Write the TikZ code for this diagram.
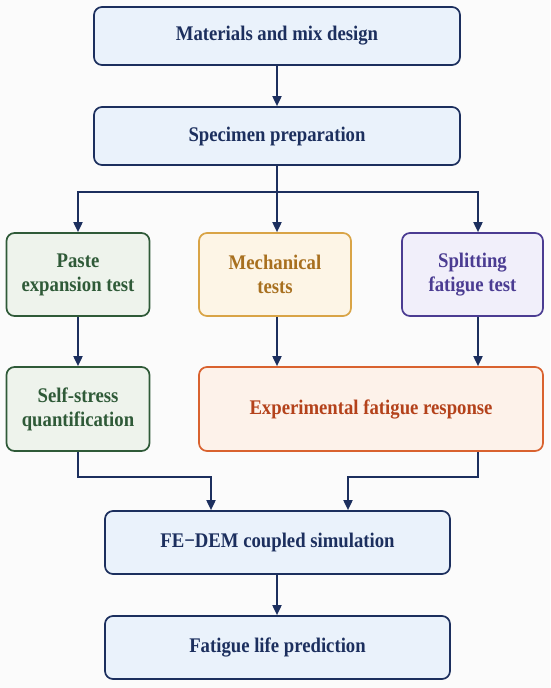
\documentclass[tikz,border=0pt]{standalone}
\usepackage{fontspec}
\setmainfont[FakeStretch=0.9]{Liberation Serif}
\usetikzlibrary{arrows.meta}

\definecolor{navy}{HTML}{1C2F5E}
\definecolor{blaufill}{HTML}{EAF2FB}
\definecolor{gruenrand}{HTML}{2F5A38}
\definecolor{gruenfill}{HTML}{EEF3EC}
\definecolor{orangerand}{HTML}{D9A446}
\definecolor{orangefill}{HTML}{FDF5E6}
\definecolor{orangetext}{HTML}{A8701F}
\definecolor{lilarand}{HTML}{4B3C92}
\definecolor{lilafill}{HTML}{F1EFFA}
\definecolor{rotrand}{HTML}{D9622F}
\definecolor{rotfill}{HTML}{FDF2EA}
\definecolor{rottext}{HTML}{B4421B}

\tikzset{
  kasten/.style={rectangle,rounded corners=8pt,line width=1.7pt,align=center,
    font=\fontsize{20.8}{24}\selectfont\bfseries,inner sep=0pt},
  blau/.style={kasten,draw=navy,fill=blaufill,text=navy},
  gruen/.style={kasten,draw=gruenrand,fill=gruenfill,text=gruenrand},
  orange/.style={kasten,draw=orangerand,fill=orangefill,text=orangetext},
  lila/.style={kasten,draw=lilarand,fill=lilafill,text=lilarand},
  rot/.style={kasten,draw=rotrand,fill=rotfill,text=rottext},
  pfeil/.style={draw=navy,line width=1.8pt,-{Triangle[width=9pt,length=10pt]}}
}

\begin{document}
\begin{tikzpicture}[x=1pt,y=-1pt]
  \useasboundingbox (0,0) rectangle (550,688);
  \fill[white!97!gray] (0,0) rectangle (550,688);
  % Kaesten
  \node[blau,minimum width=366pt,minimum height=58pt] (mix) at (277,36) {Materials and mix design};
  \node[blau,minimum width=366pt,minimum height=58pt] (spec) at (277,136) {Specimen preparation};
  \node[gruen,minimum width=143pt,minimum height=83pt] (paste) at (78,274.5) {Paste\\expansion test};
  \node[orange,minimum width=152pt,minimum height=83pt] (mech) at (275,274.5) {Mechanical\\tests};
  \node[lila,minimum width=141pt,minimum height=83pt] (split) at (472.5,274.5) {Splitting\\fatigue test};
  \node[gruen,minimum width=143pt,minimum height=84pt] (self) at (78,409) {Self-stress\\quantification};
  \node[rot,minimum width=344pt,minimum height=84pt] (exp) at (371,409) {Experimental fatigue response};
  \node[blau,minimum width=345pt,minimum height=63pt] (fedem) at (277.5,542.5) {FE−DEM coupled simulation};
  \node[blau,minimum width=345pt,minimum height=63pt] (life) at (277.5,647.5) {Fatigue life prediction};
  % Verzweigungen
  \coordinate (knoten) at (277,192);
  \coordinate (rechts) at (478,192);
  \coordinate (jl) at (211,477);
  \coordinate (jr) at (348,477);
  % Pfeile
  \draw[pfeil] (mix.south -| knoten) -- (spec.north -| knoten);
  \draw[pfeil] (spec.south -| knoten) -- (knoten) -| (paste.north);
  \draw[pfeil] (knoten) -- (rechts) -- (rechts |- split.north);
  \draw[pfeil] (knoten) -- (knoten |- mech.north);
  \draw[pfeil] (paste.south) -- (self.north);
  \draw[pfeil] (mech.south -| knoten) -- (knoten |- exp.north);
  \draw[pfeil] (split.south -| rechts) -- (rechts |- exp.north);
  \draw[pfeil] (self.south) |- (jl) -- (jl |- fedem.north);
  \draw[pfeil] (exp.south -| rechts) |- (jr) -- (jr |- fedem.north);
  \draw[pfeil] (fedem.south -| knoten) -- (life.north -| knoten);
\end{tikzpicture}
\end{document}
